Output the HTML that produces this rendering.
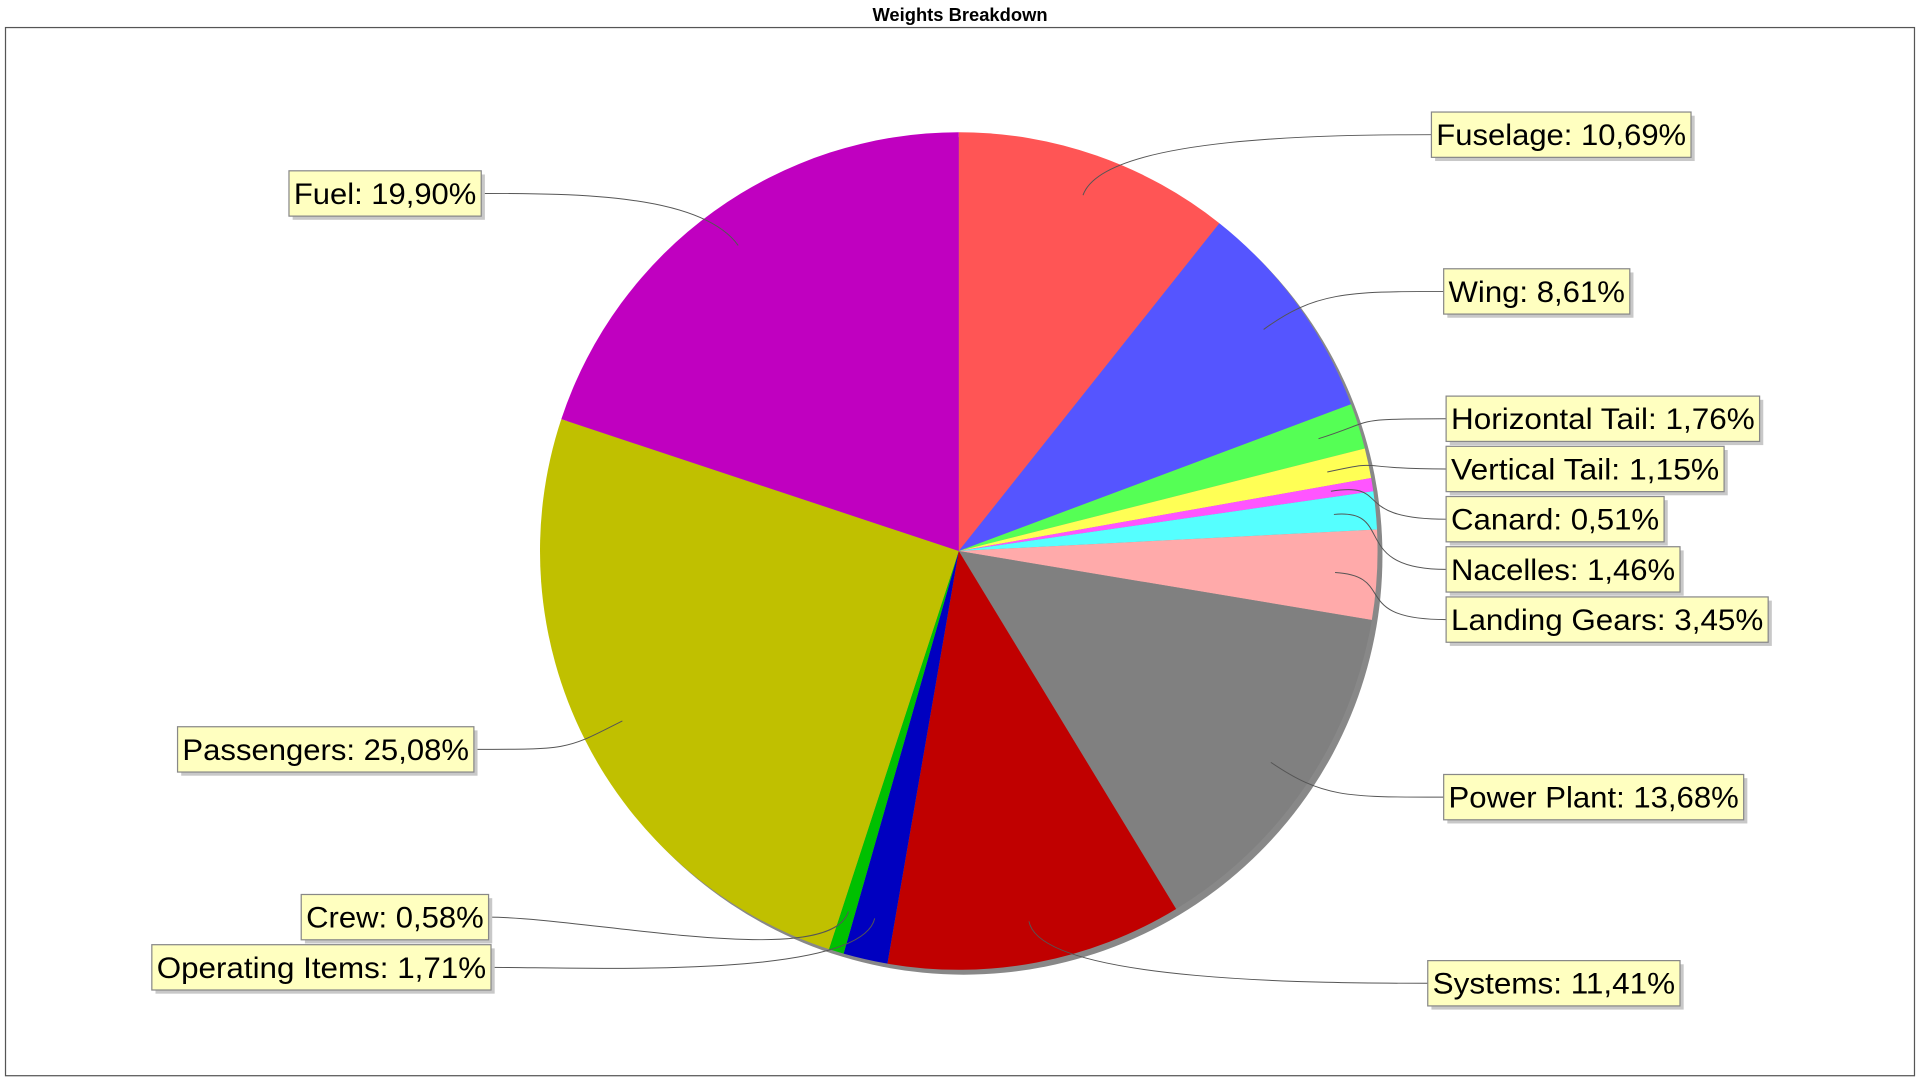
<!DOCTYPE html>
<html><head><meta charset="utf-8"><style>
html,body{margin:0;padding:0;background:#fff;overflow:hidden}
svg{display:block;width:100vw;height:100vh}
</style></head><body>
<svg id="chart" viewBox="0 0 1568 882" preserveAspectRatio="none" xmlns="http://www.w3.org/2000/svg">
<rect x="0" y="0" width="1568" height="882" fill="#fff"/>
<text x="784" y="17" text-anchor="middle" font-family="Liberation Sans, sans-serif" font-weight="bold" font-size="15">Weights Breakdown</text>
<rect x="4.5" y="22.5" width="1559" height="856" fill="#fff" stroke="#555" stroke-width="1"/>
<g id="shadow"></g><g id="slices"></g><g id="links"></g><g id="labels"></g>
</svg>
<script>
const categories=["Fuselage","Wing","Horizontal Tail","Vertical Tail","Canard","Nacelles","Landing Gears","Power Plant","Systems","Operating Items","Crew","Passengers","Fuel"];
const values=[10.69,8.61,1.76,1.15,0.51,1.46,3.45,13.68,11.41,1.71,0.58,25.08,19.90];
const valueLabels=["10,69%","8,61%","1,76%","1,15%","0,51%","1,46%","3,45%","13,68%","11,41%","1,71%","0,58%","25,08%","19,90%"];
const colors=["#FF5555","#5555FF","#55FF55","#FFFF55","#FF55FF","#55FFFF","#FFAAAA","#808080","#C00000","#0000C0","#00C000","#C0C000","#C000C0"];
// label box layout (anchor x, center y, width)
const boxX=[1169,1179,1181,1181,1181,1181,1181,1179,1166,401,399,387,393];
const boxY=[110,238,342,383,424,465,506,651,803,790,749,612,158];
const boxW=[212,152,256,227,178,191,263,245,206,277,153,242,157];
const cx=783,cy=450,R=342;
const NS="http://www.w3.org/2000/svg";
const total=values.reduce((a,b)=>a+b,0);
function pt(a,r){return [cx+r*Math.sin(a),cy-r*Math.cos(a)];}
function arc(a0,a1,ox,oy){const p0=pt(a0,R),p1=pt(a1,R);const large=(a1-a0)>Math.PI?1:0;
return `M${cx+ox},${cy+oy} L${p0[0]+ox},${p0[1]+oy} A${R},${R} 0 ${large} 1 ${p1[0]+ox},${p1[1]+oy} Z`;}
const gS=document.getElementById('shadow'),g=document.getElementById('slices'),gL=document.getElementById('links'),gB=document.getElementById('labels');
const sh=document.createElementNS(NS,'circle');
sh.setAttribute('cx',cx+4);sh.setAttribute('cy',cy+4);sh.setAttribute('r',R);sh.setAttribute('fill','#888');


gS.appendChild(sh);
let acc=0;
values.forEach((v,i)=>{
  const a0=acc/total*2*Math.PI;acc+=v;const a1=acc/total*2*Math.PI;
  const p=document.createElementNS(NS,'path');
  p.setAttribute('d',arc(a0,a1,0,0));p.setAttribute('fill',colors[i]);
  
  
  g.appendChild(p);
  const am=(a0+a1)/2;const an=pt(am,R*0.9);const right=i<9;
  const text=categories[i]+": "+valueLabels[i];
  const w=boxW[i],h=37;
  const bx=right?boxX[i]:boxX[i]-w, by=boxY[i]-h/2;
  const ex=right?bx:bx+w, ey=boxY[i];
  const c1=pt(am,R*1.05);
  const l=document.createElementNS(NS,'path');
  l.setAttribute('d',`M${an[0]},${an[1]} C${c1[0]},${c1[1]} ${ex+(right?-80:80)},${ey} ${ex},${ey}`);
  l.setAttribute('fill','none');l.setAttribute('stroke','#555');l.setAttribute('stroke-width','0.8');
  
  
  gL.appendChild(l);
  const bg=document.createElementNS(NS,'g');
  
  
  bg.innerHTML=`<rect x="${bx+3}" y="${by+3}" width="${w}" height="${h}" fill="#c8c8c8"/><rect x="${bx}" y="${by}" width="${w}" height="${h}" fill="#FFFFC0" stroke="#888" stroke-width="1"/><text x="${bx+w/2}" y="${ey+8.5}" text-anchor="middle" font-family="Liberation Sans, sans-serif" font-size="24" textLength="${w-8}" lengthAdjust="spacingAndGlyphs">${text}</text>`;
  gB.appendChild(bg);
});
</script>
</body></html>
